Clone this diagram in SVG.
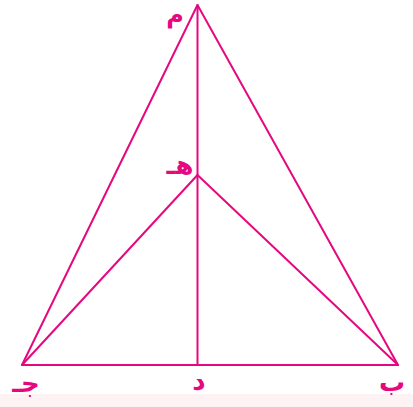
<svg xmlns="http://www.w3.org/2000/svg" width="413" height="407" viewBox="0 0 413 407">
<style>
.ln{stroke:#E5087F;stroke-width:2;fill:none;stroke-linecap:round;stroke-linejoin:round}
.lb{font-family:"DejaVu Sans",sans-serif;font-weight:bold;font-size:26px;fill:#E5087F;text-anchor:middle}
</style>
<rect width="413" height="407" fill="#ffffff"/>
<rect x="0" y="394" width="413" height="13" fill="#fdf2f4"/>
<g id="connectors">
<path class="ln" d="M197.5 5 L22 365 L398 365 Z"/>
<line class="ln" x1="197.5" y1="5" x2="197.5" y2="365"/>
<line class="ln" x1="197.5" y1="175" x2="22" y2="365"/>
<line class="ln" x1="197.5" y1="175" x2="398" y2="365"/>
</g>
<g id="node-a"><text class="lb" x="175" y="23" style="font-size:24px">م</text></g>
<g id="node-h"><text class="lb" x="180" y="174">هـ</text></g>
<g id="node-j"><text class="lb" x="26" y="392">جـ</text></g>
<g id="node-d"><text class="lb" x="199" y="390">د</text></g>
<g id="node-b"><text class="lb" x="392" y="391">ب</text></g>
</svg>
